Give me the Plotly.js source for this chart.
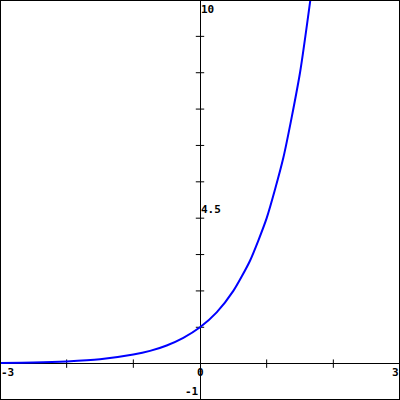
<!DOCTYPE html>
<html>
<head>
<meta charset="utf-8">
<script src="https://cdn.plot.ly/plotly-3.0.1.min.js"></script>
<style>html,body{margin:0;padding:0;background:#fff;}#plot{width:400px;height:400px;}</style>
</head>
<body>
<div id="plot"></div>
<script>
// Curve samples
var curveX = [-3, -2.5, -2, -1.5, -1, -0.75, -0.5, -0.25, 0, 0.25, 0.5, 0.75, 1, 1.25, 1.5, 1.75];
var curveY = [0.02, 0.03, 0.06, 0.12, 0.25, 0.35, 0.5, 0.71, 1.0, 1.41, 2.0, 2.83, 4.0, 5.66, 8.0, 11.3];

// Axis ranges
var xRange = [-3, 3];
var yRange = [-1, 10];

// Tick marks drawn on the zero axes
var xTickVals = [-2, -1, 1, 2];
var yTickVals = [1, 2, 3, 4, 5, 6, 7, 8, 9];

// Axis labels
var xLabelVals = [-3, 0, 3];
var xLabelText = ['-3', '0', '3'];
var yLabelVals = [-1, 4.5, 10];
var yLabelText = ['-1', '4.5', '10'];

var font = {family: 'DejaVu Sans Mono, Liberation Mono, monospace', size: 11, color: '#000'};

var traces = [
  {
    x: xTickVals, y: xTickVals.map(function(){return 0;}),
    mode: 'markers', type: 'scatter', hoverinfo: 'skip',
    marker: {symbol: 'line-ns', size: 6, line: {width: 1, color: '#000'}},
    cliponaxis: false
  },
  {
    x: yTickVals.map(function(){return 0;}), y: yTickVals,
    mode: 'markers', type: 'scatter', hoverinfo: 'skip',
    marker: {symbol: 'line-ew', size: 6, line: {width: 1, color: '#000'}},
    cliponaxis: false
  },
  {
    x: curveX, y: curveY,
    mode: 'lines', type: 'scatter',
    line: {color: '#0000ff', width: 2, shape: 'spline', smoothing: 0.6}
  }
];

var annotations = [];
xLabelVals.forEach(function(v, i){
  annotations.push({
    x: v, y: 0, xref: 'x', yref: 'y', text: '<b>' + xLabelText[i] + '</b>', showarrow: false,
    xanchor: i === 0 ? 'left' : (i === xLabelVals.length - 1 ? 'right' : 'center'),
    yanchor: 'top', yshift: -1, font: font, borderpad: 0
  });
});
yLabelVals.forEach(function(v, i){
  annotations.push({
    x: 0, y: v, xref: 'x', yref: 'y', text: '<b>' + yLabelText[i] + '</b>', showarrow: false,
    xanchor: i === 0 ? 'right' : 'left',
    yanchor: i === 0 ? 'bottom' : 'top',
    yshift: i === 0 ? 1 : -2, xshift: 0, font: font, borderpad: 0
  });
});

var layout = {
  width: 400, height: 400,
  margin: {l: 0, r: 0, t: 0, b: 0, pad: 0},
  paper_bgcolor: '#fff', plot_bgcolor: '#fff',
  showlegend: false,
  xaxis: {range: xRange, showgrid: false, zeroline: true, zerolinecolor: '#000', zerolinewidth: 1,
          showticklabels: false, ticks: '', showline: false, fixedrange: true},
  yaxis: {range: yRange, showgrid: false, zeroline: true, zerolinecolor: '#000', zerolinewidth: 1,
          showticklabels: false, ticks: '', showline: false, fixedrange: true},
  shapes: [{type: 'rect', xref: 'paper', yref: 'paper', x0: 0, x1: 1, y0: 0, y1: 1,
            line: {color: '#000', width: 2}}],
  annotations: annotations
};

Plotly.newPlot('plot', traces, layout, {staticPlot: true, displayModeBar: false});
</script>
</body>
</html>
